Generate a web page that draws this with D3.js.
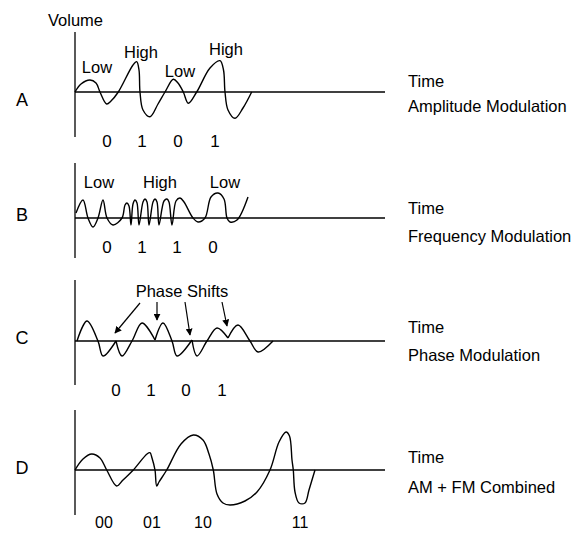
<!doctype html>
<html>
<head>
<meta charset="utf-8">
<title>Modulation</title>
<script src="https://d3js.org/d3.v7.min.js"></script>
<style>
  body { margin: 0; background: #fff; overflow: hidden; }
  text { font-family: "Liberation Sans", Arial, sans-serif; fill: #000; }
</style>
</head>
<body>
<svg id="chart"></svg>
<script>
  // panel names and bit labels
  var letters = ["A", "B", "C", "D"];
  var modulationNames = ["Amplitude Modulation", "Frequency Modulation", "Phase Modulation", "AM + FM Combined"];
  var bitsA = ["0", "1", "0", "1"], bitTimeA = [32, 67, 103, 140];
  var bitsB = ["0", "1", "1", "0"], bitTimeB = [32, 67, 102, 138];
  var bitsC = ["0", "1", "0", "1"], bitTimeC = [41, 76, 111, 147];
  var bitsD = ["00", "01", "10", "11"], bitTimeD = [29, 77, 128, 225];

  // word labels over the waves: [text, time, height]
  var wordsA = [["Low", 22, 19], ["High", 66, 34], ["Low", 105, 15], ["High", 151, 37]];
  var wordsB = [["Low", 24, 30], ["High", 85, 30], ["Low", 150, 30]];

  // waves as [time, amplitude]
  var waveA = [[0, 0], [6, 8], [15, 12], [21, 9], [25, 0], [31.7, -12], [36, -9], [43.3, 0],
    [58, 27], [61.7, 30.3], [64, 22], [65, 0], [68, -18], [75, -24.7], [83, -12],
    [90, 0], [98.3, 12.7], [103, 9], [108.3, 0], [113.3, -11.3], [121.7, 0], [135, 24],
    [145, 31.3], [148.5, 22], [150, 0], [153, -18], [160, -26.3], [168, -16], [176.7, 0]];
  var waveB = [[1, 5], [8, 18], [13, 0], [18, -9], [23, 0], [28, 18], [32, 0], [38, -7], [47, 0],
    [50, 13], [52, 15], [54, 12], [56, -7], [58, 14], [60, 18], [62, 15], [64, -7],
    [68, 16], [70, 19], [72, 16], [74, -7], [78, 16], [80, 19], [82, 16], [84, -7],
    [89, 17], [92, 19], [94, 16], [97, -7], [101, 17], [105, 20], [109, 16], [118, 0],
    [123, -4], [130, 0], [136, 21], [143, 25], [149, 19], [152, 0], [155, -4], [162, -2], [173, 21]];
  var waveC = [
    [[2, 0], [12, 20], [23, 0], [28, -15], [41, 0]],
    [[41, 0], [47, -15], [57, 0], [67, 18], [80, 1]],
    [[80, 1], [88, 18], [97, 0], [102, -15], [117, 1]],
    [[117, 1], [122, -15], [132, 0], [142, 13], [153, 3]],
    [[153, 3], [163, 16], [175, 0], [183, -11], [198, 0]]
  ];
  var waveD = [[0, 0], [8, 11], [16.7, 16], [25, 12], [31.7, 0], [41.7, -16], [48, -10], [58.3, 0],
    [72, 16], [75, 17.3], [77, 12], [80, 0], [81.7, -16], [84, -12], [91.7, 0], [106, 26],
    [118.3, 35], [128, 30], [134, 16], [138.3, 0], [142, -24], [148, -33], [155, -35],
    [170, -31], [182, -22], [195, 0], [204, 28], [211, 38], [214.5, 34], [217, 10],
    [218.3, 0], [220, -22], [224, -33], [230, -33], [234, -20], [240, 0]];

  // phase shift arrows: [fromTime, fromAmp, toTime, toAmp]
  var arrowsC = [[65, 38, 40, 8], [82, 39, 82, 21], [110, 39, 115, 6], [147, 39, 152, 15]];

  var width = 578, height = 533;
  var svg = d3.select("#chart").attr("width", width).attr("height", height);

  svg.append("defs").append("marker")
    .attr("id", "head")
    .attr("viewBox", "0 0 10 10")
    .attr("refX", 9).attr("refY", 5)
    .attr("markerWidth", 7).attr("markerHeight", 7)
    .attr("markerUnits", "userSpaceOnUse")
    .attr("orient", "auto")
    .append("path").attr("d", "M0,0L10,5L0,10Z").attr("fill", "#000");

  var x = d3.scaleLinear().domain([0, 310]).range([75, 385]);

  var panels = [
    {base: 92, top: 32, bottom: 137, time: 87, name: 112, letterY: 106, bitY: 147, bits: bitsA, bitTime: bitTimeA, words: wordsA, waves: [waveA]},
    {base: 218, top: 163, bottom: 258, time: 214, name: 242, letterY: 221, bitY: 253, bits: bitsB, bitTime: bitTimeB, words: wordsB, waves: [waveB]},
    {base: 341, top: 280, bottom: 385, time: 333, name: 361, letterY: 344, bitY: 396, bits: bitsC, bitTime: bitTimeC, words: [], waves: waveC},
    {base: 470, top: 410, bottom: 515, time: 463, name: 493, letterY: 474, bitY: 528, bits: bitsD, bitTime: bitTimeD, words: [], waves: [waveD]}
  ];

  svg.append("text").attr("x", 48).attr("y", 26).attr("font-size", 16.5).text("Volume");

  panels.forEach(function(p, i) {
    var y = d3.scaleLinear().domain([-50, 50]).range([p.base + 50, p.base - 50]);
    var g = svg.append("g");

    g.append("line")
      .attr("x1", x(0)).attr("x2", x(0))
      .attr("y1", p.top).attr("y2", p.bottom)
      .attr("stroke", "#000").attr("stroke-width", 1.3);
    g.append("line")
      .attr("x1", x(0)).attr("x2", x(310))
      .attr("y1", y(0)).attr("y2", y(0))
      .attr("stroke", "#000").attr("stroke-width", 1.3);

    var line = d3.line()
      .x(function(d) { return x(d[0]); })
      .y(function(d) { return y(d[1]); })
      .curve(d3.curveCatmullRom.alpha(0.5));

    g.selectAll(".wave").data(p.waves).enter().append("path")
      .attr("class", "wave")
      .attr("d", line)
      .attr("fill", "none").attr("stroke", "#000").attr("stroke-width", 1.4);

    g.append("text").attr("x", 22).attr("y", p.letterY)
      .attr("text-anchor", "middle").attr("font-size", 18).text(letters[i]);

    g.append("text").attr("x", 408).attr("y", p.time).attr("font-size", 16.5).text("Time");
    g.append("text").attr("x", 408).attr("y", p.name).attr("font-size", 16.5).text(modulationNames[i]);

    g.selectAll(".bit").data(p.bits).enter().append("text")
      .attr("class", "bit")
      .attr("x", function(d, j) { return x(p.bitTime[j]); })
      .attr("y", p.bitY)
      .attr("text-anchor", "middle").attr("font-size", i === 3 ? 16 : 17)
      .text(function(d) { return d; });

    g.selectAll(".word").data(p.words).enter().append("text")
      .attr("class", "word")
      .attr("x", function(d) { return x(d[1]); })
      .attr("y", function(d) { return y(d[2]); })
      .attr("text-anchor", "middle").attr("font-size", 16.5)
      .text(function(d) { return d[0]; });

    if (i === 2) {
      g.append("text").attr("x", x(107)).attr("y", y(44))
        .attr("text-anchor", "middle").attr("font-size", 16.5).text("Phase Shifts");
      g.selectAll(".arrow").data(arrowsC).enter().append("line")
        .attr("class", "arrow")
        .attr("x1", function(d) { return x(d[0]); })
        .attr("y1", function(d) { return y(d[1]); })
        .attr("x2", function(d) { return x(d[2]); })
        .attr("y2", function(d) { return y(d[3]); })
        .attr("stroke", "#000").attr("stroke-width", 1.2)
        .attr("marker-end", "url(#head)");
    }
  });
</script>
</body>
</html>
